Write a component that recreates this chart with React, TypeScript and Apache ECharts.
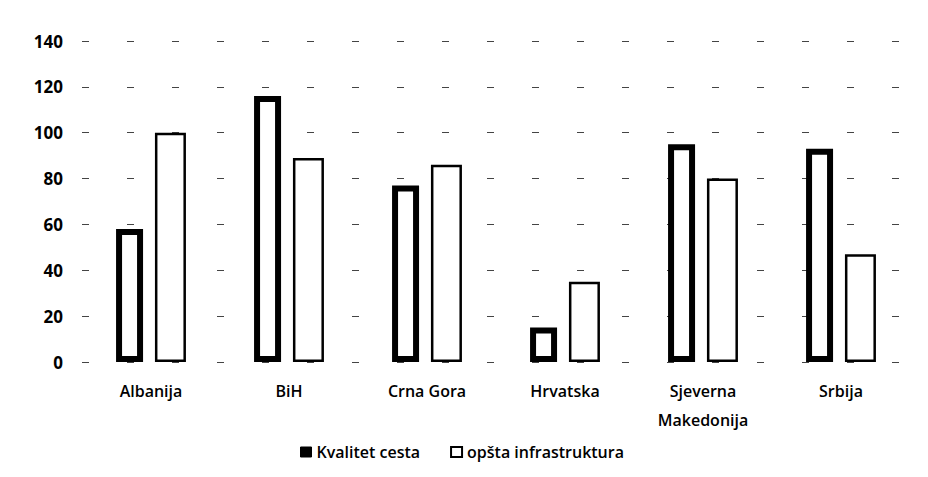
import React, { useEffect, useRef } from "react";
import * as echarts from "echarts";

const categories = ["Albanija", "BiH", "Crna Gora", "Hrvatska", "Sjeverna\nMakedonija", "Srbija"];
const kvalitetCesta = [58, 116, 77, 15, 95, 93];
const opstaInfrastruktura = [100, 89, 86, 35, 80, 47];
const seriesNames = ["Kvalitet cesta", "opšta infrastruktura"];

export default function App() {
  const ref = useRef<HTMLDivElement>(null);
  useEffect(() => {
    document.body.style.margin = "0";
    const chart = echarts.init(ref.current!, null, { renderer: "svg" });
    const font = "'Open Sans', 'Noto Sans', sans-serif";
    chart.setOption({
      animation: false,
      backgroundColor: "#fff",
      grid: { left: 82, right: 18, top: 41, bottom: 115, containLabel: false },
      legend: {
        left: 295,
        top: 439,
        itemWidth: 11,
        itemHeight: 10,
        itemGap: 30,
        icon: "rect",
        textStyle: { fontFamily: font, fontSize: 16, color: "#000", fontWeight: 600 },
        data: [
          { name: seriesNames[0], itemStyle: { color: "#000", borderColor: "#000", borderWidth: 1 } },
          { name: seriesNames[1], itemStyle: { color: "#fff", borderColor: "#000", borderWidth: 2 } },
        ],
      },
      xAxis: {
        type: "category",
        data: categories,
        axisLine: { show: false },
        axisTick: { show: false },
        axisLabel: {
          margin: 14,
          fontFamily: font,
          fontSize: 16,
          fontWeight: 600,
          color: "#000",
          lineHeight: 29,
          interval: 0,
        },
      },
      yAxis: {
        type: "value",
        min: 0,
        max: 140,
        interval: 20,
        axisLine: { show: false },
        axisTick: { show: false },
        splitLine: { show: true, lineStyle: { color: "#444", width: 1, type: [7, 38] } },
        axisLabel: {
          margin: 19,
          fontFamily: font,
          fontSize: 17,
          fontWeight: "bold",
          color: "#000",
        },
      },
      series: [
        {
          name: seriesNames[0],
          type: "bar",
          data: kvalitetCesta,
          barWidth: 27,
          barGap: "44%",
          itemStyle: { color: "#fff", borderColor: "#000", borderWidth: 6 },
        },
        {
          name: seriesNames[1],
          type: "bar",
          data: opstaInfrastruktura,
          barWidth: 31,
          itemStyle: { color: "#fff", borderColor: "#000", borderWidth: 2.5 },
        },
      ],
    });
    return () => chart.dispose();
  }, []);
  return <div ref={ref} style={{ width: 928, height: 477 }} />;
}
